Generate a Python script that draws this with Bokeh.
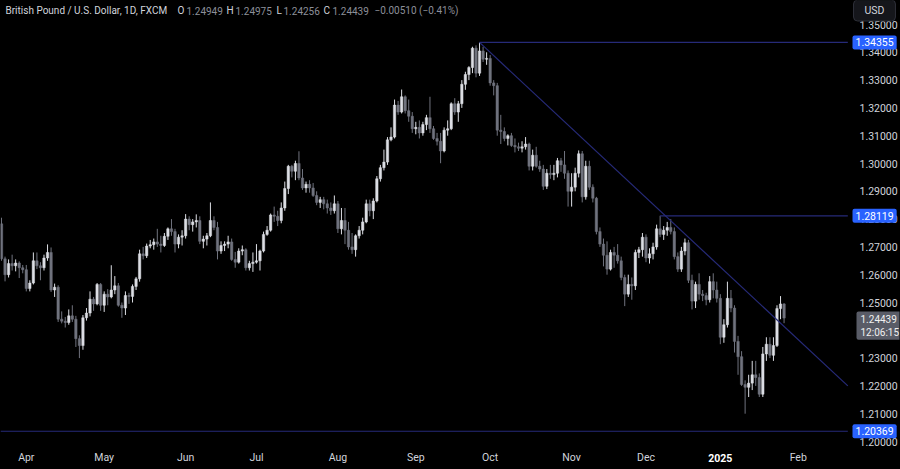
import pandas as pd
from bokeh.plotting import figure
from bokeh.models import (Range1d, FixedTicker, PrintfTickFormatter, Label,
                          ColumnDataSource)
from bokeh.embed import file_html
from bokeh.resources import INLINE

# ---------------- data (GBP/USD daily, FXCM) ----------------
FIRST_DAY = "2024-03-21"
LAST_DAY = "2025-01-28"
NO_BAR_DAYS = ["2024-12-25", "2025-01-01"]

OPEN = [
    # Mar 21-29
    1.2783, 1.2657, 1.2600, 1.2640, 1.2632, 1.2642, 1.2625,
    # Apr
    1.2618, 1.2550, 1.2570, 1.2650, 1.2632, 1.2625, 1.2660, 1.2680, 1.2545, 1.2555, 1.2440,
    1.2433, 1.2428, 1.2452, 1.2440, 1.2370, 1.2345, 1.2445, 1.2462, 1.2512, 1.2495, 1.2565,
    # May
    1.2490, 1.2530, 1.2520, 1.2545, 1.2560, 1.2490, 1.2480, 1.2525, 1.2522, 1.2558, 1.2585,
    1.2675, 1.2668, 1.2703, 1.2708, 1.2718, 1.2710, 1.2705, 1.2738, 1.2765, 1.2755, 1.2710, 1.2735,
    # Jun
    1.2740, 1.2800, 1.2780, 1.2790, 1.2795, 1.2720, 1.2728, 1.2740, 1.2795, 1.2770,
    1.2685, 1.2705, 1.2710, 1.2718, 1.2655, 1.2645, 1.2685, 1.2690, 1.2625, 1.2640,
    # Jul
    1.2645, 1.2650, 1.2685, 1.2745, 1.2760, 1.2815, 1.2810, 1.2795, 1.2840, 1.2910, 1.2990,
    1.2972, 1.3000, 1.2948, 1.2912, 1.2925, 1.2912, 1.2885, 1.2860, 1.2870, 1.2855, 1.2840, 1.2830,
    # Aug
    1.2855, 1.2765, 1.2795, 1.2760, 1.2700, 1.2690, 1.2740, 1.2760, 1.2790, 1.2855, 1.2830,
    1.2865, 1.2945, 1.2985, 1.3005, 1.3085, 1.3095, 1.3210, 1.3185, 1.3240, 1.3190, 1.3170,
    # Sep
    1.3125, 1.3130, 1.3110, 1.3140, 1.3165, 1.3125, 1.3090, 1.3080, 1.3045, 1.3120, 1.3125,
    1.3215, 1.3185, 1.3215, 1.3285, 1.3320, 1.3345, 1.3415, 1.3325, 1.3405, 1.3375,
    # Oct
    1.3378, 1.3290, 1.3280, 1.3120, 1.3115, 1.3090, 1.3100, 1.3065, 1.3060, 1.3055, 1.3060,
    1.3070, 1.2990, 1.3030, 1.2990, 1.2980, 1.2918, 1.2965, 1.2960, 1.2965, 1.3010, 1.2995, 1.2965,
    # Nov
    1.2900, 1.2915, 1.2965, 1.3035, 1.2880, 1.2990, 1.2915, 1.2875, 1.2755, 1.2710, 1.2670,
    1.2620, 1.2680, 1.2670, 1.2650, 1.2590, 1.2530, 1.2565, 1.2560, 1.2680, 1.2690,
    # Dec
    1.2735, 1.2660, 1.2675, 1.2700, 1.2765, 1.2745, 1.2760, 1.2770, 1.2755, 1.2665, 1.2620,
    1.2685, 1.2715, 1.2580, 1.2505, 1.2565, 1.2530, 1.2525, 1.2510, 1.2575, 1.2545,
    # Jan
    1.2515, 1.2375, 1.2420, 1.2515, 1.2480, 1.2360, 1.2305, 1.2205, 1.2195, 1.2210,
    1.2240, 1.2230, 1.2170, 1.2315, 1.2350, 1.2310, 1.2345, 1.2478, 1.24949,
]

HIGH = [
    # Mar 21-29
    1.2805, 1.2665, 1.2655, 1.2672, 1.2655, 1.2648, 1.2635,
    # Apr
    1.2635, 1.2580, 1.2680, 1.2680, 1.2645, 1.2672, 1.2709, 1.2698, 1.2568, 1.2562, 1.2468,
    1.2448, 1.2475, 1.2490, 1.2452, 1.2382, 1.2455, 1.2480, 1.2540, 1.2520, 1.2570, 1.2570,
    # May
    1.2540, 1.2548, 1.2634, 1.2595, 1.2570, 1.2500, 1.2540, 1.2535, 1.2565, 1.2592, 1.2690,
    1.2700, 1.2712, 1.2725, 1.2730, 1.2765, 1.2740, 1.2750, 1.2770, 1.2800, 1.2765, 1.2745, 1.2760,
    # Jun
    1.2818, 1.2810, 1.2800, 1.2817, 1.2810, 1.2740, 1.2750, 1.2860, 1.2810, 1.2790,
    1.2720, 1.2720, 1.2740, 1.2730, 1.2682, 1.2695, 1.2705, 1.2695, 1.2650, 1.2680,
    # Jul
    1.2710, 1.2690, 1.2755, 1.2775, 1.2820, 1.2845, 1.2830, 1.2860, 1.2935, 1.2995, 1.2995,
    1.3010, 1.3044, 1.2980, 1.2935, 1.2940, 1.2930, 1.2900, 1.2880, 1.2880, 1.2870, 1.2860, 1.2885,
    # Aug
    1.2865, 1.2840, 1.2840, 1.2790, 1.2750, 1.2745, 1.2775, 1.2805, 1.2870, 1.2870, 1.2875,
    1.2955, 1.2995, 1.3050, 1.3095, 1.3130, 1.3230, 1.3225, 1.3266, 1.3245, 1.3230, 1.3185,
    # Sep
    1.3150, 1.3155, 1.3150, 1.3175, 1.3240, 1.3135, 1.3110, 1.3110, 1.3130, 1.3155, 1.3220,
    1.3235, 1.3225, 1.3300, 1.3330, 1.3350, 1.3420, 1.3425, 1.34355, 1.3420, 1.3400,
    # Oct
    1.3390, 1.3300, 1.3290, 1.3175, 1.3130, 1.3105, 1.3110, 1.3090, 1.3075, 1.3080, 1.3095,
    1.3075, 1.3050, 1.3060, 1.3010, 1.2995, 1.2980, 1.2995, 1.2995, 1.3020, 1.3020, 1.3045, 1.2975,
    # Nov
    1.2965, 1.2985, 1.3047, 1.3045, 1.3010, 1.3010, 1.2925, 1.2880, 1.2770, 1.2730, 1.2720,
    1.2690, 1.2700, 1.2710, 1.2665, 1.2600, 1.2600, 1.2590, 1.2690, 1.2700, 1.2750,
    # Dec
    1.2745, 1.2695, 1.2715, 1.2780, 1.28119, 1.2775, 1.2790, 1.2800, 1.2770, 1.2680, 1.2700,
    1.2730, 1.2725, 1.2600, 1.2575, 1.2605, 1.2545, 1.2535, 1.2595, 1.2605, 1.2575,
    # Jan
    1.2530, 1.2440, 1.2575, 1.2545, 1.2490, 1.2380, 1.2325, 1.2220, 1.2240, 1.2290,
    1.2290, 1.2245, 1.2340, 1.2375, 1.2375, 1.2375, 1.2490, 1.2523, 1.24975,
]

LOW = [
    # Mar 21-29
    1.2650, 1.2576, 1.2590, 1.2615, 1.2612, 1.2588, 1.2605,
    # Apr
    1.2540, 1.2540, 1.2565, 1.2620, 1.2580, 1.2615, 1.2650, 1.2538, 1.2520, 1.2430, 1.2425,
    1.2410, 1.2420, 1.2430, 1.2340, 1.2300, 1.2330, 1.2435, 1.2450, 1.2470, 1.2490, 1.2470,
    # May
    1.2466, 1.2490, 1.2515, 1.2530, 1.2485, 1.2445, 1.2455, 1.2495, 1.2500, 1.2545, 1.2575,
    1.2655, 1.2660, 1.2695, 1.2690, 1.2700, 1.2680, 1.2700, 1.2725, 1.2740, 1.2680, 1.2695, 1.2705,
    # Jun
    1.2730, 1.2760, 1.2755, 1.2770, 1.2710, 1.2695, 1.2705, 1.2735, 1.2760, 1.2655,
    1.2675, 1.2685, 1.2695, 1.2650, 1.2625, 1.2640, 1.2670, 1.2615, 1.2615, 1.2610,
    # Jul
    1.2640, 1.2615, 1.2680, 1.2740, 1.2755, 1.2790, 1.2775, 1.2785, 1.2830, 1.2890, 1.2950,
    1.2940, 1.2940, 1.2905, 1.2895, 1.2895, 1.2880, 1.2850, 1.2840, 1.2835, 1.2820, 1.2815, 1.2820,
    # Aug
    1.2750, 1.2745, 1.2710, 1.2690, 1.2675, 1.2665, 1.2730, 1.2745, 1.2785, 1.2810, 1.2800,
    1.2860, 1.2935, 1.2975, 1.2995, 1.3080, 1.3090, 1.3175, 1.3180, 1.3180, 1.3150, 1.3110,
    # Sep
    1.3105, 1.3090, 1.3100, 1.3120, 1.3110, 1.3085, 1.3065, 1.3001, 1.3040, 1.3100, 1.3120,
    1.3175, 1.3150, 1.3200, 1.3265, 1.3300, 1.3325, 1.3310, 1.3315, 1.3365, 1.3355,
    # Oct
    1.3280, 1.3245, 1.3100, 1.3070, 1.3080, 1.3065, 1.3060, 1.3040, 1.3045, 1.3040, 1.3050,
    1.2975, 1.2975, 1.2985, 1.2970, 1.2905, 1.2908, 1.2945, 1.2940, 1.2950, 1.2970, 1.2945, 1.2845,
    # Nov
    1.2845, 1.2900, 1.2950, 1.2860, 1.2870, 1.2905, 1.2860, 1.2745, 1.2700, 1.2630, 1.2600,
    1.2615, 1.2625, 1.2640, 1.2580, 1.2487, 1.2520, 1.2510, 1.2545, 1.2660, 1.2665,
    # Dec
    1.2645, 1.2640, 1.2655, 1.2690, 1.2735, 1.2725, 1.2740, 1.2745, 1.2655, 1.2610, 1.2610,
    1.2670, 1.2570, 1.2475, 1.2480, 1.2510, 1.2505, 1.2490, 1.2500, 1.2515, 1.2500,
    # Jan
    1.2350, 1.2355, 1.2410, 1.2465, 1.2320, 1.2240, 1.2200, 1.2100, 1.2160, 1.2185,
    1.2200, 1.2160, 1.2160, 1.2290, 1.2300, 1.2290, 1.2340, 1.2440, 1.24256,
]

CLOSE = [
    # Mar 21-29
    1.2657, 1.2600, 1.2640, 1.2632, 1.2642, 1.2625, 1.2618,
    # Apr
    1.2550, 1.2570, 1.2650, 1.2632, 1.2625, 1.2660, 1.2680, 1.2545, 1.2555, 1.2440, 1.2433,
    1.2428, 1.2452, 1.2440, 1.2370, 1.2345, 1.2445, 1.2462, 1.2512, 1.2495, 1.2565, 1.2490,
    # May
    1.2530, 1.2520, 1.2545, 1.2560, 1.2490, 1.2480, 1.2525, 1.2522, 1.2558, 1.2585, 1.2675,
    1.2668, 1.2703, 1.2708, 1.2718, 1.2710, 1.2705, 1.2738, 1.2765, 1.2755, 1.2710, 1.2735, 1.2740,
    # Jun
    1.2800, 1.2780, 1.2790, 1.2795, 1.2720, 1.2728, 1.2740, 1.2795, 1.2770, 1.2685,
    1.2705, 1.2710, 1.2718, 1.2655, 1.2645, 1.2685, 1.2690, 1.2625, 1.2640, 1.2645,
    # Jul
    1.2650, 1.2685, 1.2745, 1.2760, 1.2815, 1.2810, 1.2795, 1.2840, 1.2910, 1.2990, 1.2972,
    1.3000, 1.2948, 1.2912, 1.2925, 1.2912, 1.2885, 1.2860, 1.2870, 1.2855, 1.2840, 1.2830, 1.2855,
    # Aug
    1.2765, 1.2795, 1.2760, 1.2700, 1.2690, 1.2740, 1.2760, 1.2790, 1.2855, 1.2830, 1.2865,
    1.2945, 1.2985, 1.3005, 1.3085, 1.3095, 1.3210, 1.3185, 1.3240, 1.3190, 1.3170, 1.3125,
    # Sep
    1.3130, 1.3110, 1.3140, 1.3165, 1.3125, 1.3090, 1.3080, 1.3045, 1.3120, 1.3125, 1.3215,
    1.3185, 1.3215, 1.3285, 1.3320, 1.3345, 1.3415, 1.3325, 1.3405, 1.3375, 1.3378,
    # Oct
    1.3290, 1.3280, 1.3120, 1.3115, 1.3090, 1.3100, 1.3065, 1.3060, 1.3055, 1.3060, 1.3070,
    1.2990, 1.3030, 1.2990, 1.2980, 1.2918, 1.2965, 1.2960, 1.2965, 1.3010, 1.2995, 1.2965, 1.2900,
    # Nov
    1.2915, 1.2965, 1.3035, 1.2880, 1.2990, 1.2915, 1.2875, 1.2755, 1.2710, 1.2670, 1.2620,
    1.2680, 1.2670, 1.2650, 1.2590, 1.2530, 1.2565, 1.2560, 1.2680, 1.2690, 1.2735,
    # Dec
    1.2660, 1.2675, 1.2700, 1.2765, 1.2745, 1.2760, 1.2770, 1.2755, 1.2665, 1.2620, 1.2685,
    1.2715, 1.2580, 1.2505, 1.2565, 1.2530, 1.2525, 1.2510, 1.2575, 1.2545, 1.2515,
    # Jan
    1.2375, 1.2420, 1.2515, 1.2480, 1.2360, 1.2305, 1.2205, 1.2195, 1.2210, 1.2240,
    1.2230, 1.2170, 1.2315, 1.2350, 1.2310, 1.2345, 1.2478, 1.24949, 1.24439,
]

# axis ticks / labels
PRICE_TICKS = [1.20, 1.21, 1.22, 1.23, 1.24, 1.25, 1.26, 1.27, 1.28, 1.29,
               1.30, 1.31, 1.32, 1.33, 1.34, 1.35]
MONTH_TICK_DAYS = ["2024-04-01", "2024-05-01", "2024-06-03", "2024-07-01", "2024-08-01",
                   "2024-09-02", "2024-10-01", "2024-11-01", "2024-12-02", "2025-01-02",
                   "2025-02-03"]
MONTH_TICK_LABELS = ["Apr", "May", "Jun", "Jul", "Aug", "Sep", "Oct", "Nov", "Dec",
                     "2025", "Feb"]
BOLD_TICK_LABELS = ["2025"]

# drawings: horizontal levels and trend line
LEVEL_PRICES = [1.34355, 1.28119, 1.20369]
LEVEL_FROM_DAYS = ["2024-09-26", "2024-12-06", None]
DRAWING_RIGHT_DAY = "2025-02-21"
TREND_DAYS = ["2024-09-26", "2025-02-21"]
TREND_PRICES = [1.34355, 1.2200]

SYMBOL_TITLE = "British Pound / U.S. Dollar, 1D, FXCM"
CURRENCY = "USD"
BAR_COUNTDOWN = "12:06:15"

# ---------------- styling ----------------
BG = "#000000"
UP = "#dcdee4"
DOWN = "#70737e"
DRAW = "#262a78"
TXT = "#d1d4dc"
DIM = "#8c8f99"
BLUE = "#2962ff"
FONT = "Roboto"

W, H = 900, 469
PANE_W = 848          # width of the candle pane (price scale to its right)
BAR_PX = 3.545
FIRST_BAR_PX = 1.0

# ---------------- positions ----------------
days = [d for d in pd.bdate_range(FIRST_DAY, LAST_DAY)
        if d.strftime("%Y-%m-%d") not in NO_BAR_DAYS]
future = list(pd.bdate_range(pd.Timestamp(LAST_DAY) + pd.Timedelta(days=1), periods=60))
all_days = [d.strftime("%Y-%m-%d") for d in days + future]
pos = {d: i for i, d in enumerate(all_days)}
n = len(days)
assert n == len(OPEN) == len(HIGH) == len(LOW) == len(CLOSE)

idx = list(range(n))
colors = [UP if c >= o else DOWN for o, c in zip(OPEN, CLOSE)]
src = ColumnDataSource(dict(x=idx, o=OPEN, h=HIGH, l=LOW, c=CLOSE,
                            top=[max(o, c) for o, c in zip(OPEN, CLOSE)],
                            bot=[min(o, c) for o, c in zip(OPEN, CLOSE)],
                            col=colors))

x0 = -FIRST_BAR_PX / BAR_PX
x1 = x0 + W / BAR_PX
PX_PER_PRICE = 2780.0
Y_AT_130 = 163.0
y_top = 1.30 + Y_AT_130 / PX_PER_PRICE
y_bot = 1.30 - (H - Y_AT_130) / PX_PER_PRICE

p = figure(width=W, height=H, output_backend="svg", toolbar_location=None,
           x_range=Range1d(x0, x1), y_range=Range1d(y_bot, y_top),
           y_axis_location="right",
           background_fill_color=BG, border_fill_color=BG, outline_line_color=None,
           min_border_left=0, min_border_top=0, min_border_right=0,
           min_border_bottom=0)
p.grid.visible = False

# candles
p.segment(x0="x", y0="l", x1="x", y1="h", source=src, line_color="col", line_width=1)
p.vbar(x="x", width=0.68, top="top", bottom="bot", source=src,
       fill_color="col", line_color="col", line_width=0.5)

# levels and trend line
right_idx = pos[DRAWING_RIGHT_DAY]
lev_x0 = [pos[d] if d is not None else x0 for d in LEVEL_FROM_DAYS]
p.segment(x0=lev_x0, y0=LEVEL_PRICES, x1=[right_idx] * len(LEVEL_PRICES), y1=LEVEL_PRICES,
          line_color=DRAW, line_width=1.2)
p.line(x=[pos[d] for d in TREND_DAYS], y=TREND_PRICES, line_color=DRAW, line_width=1.2)

# axes (labels drawn over the pane edges like the reference price/time scales)
ya = p.yaxis[0]
ya.ticker = FixedTicker(ticks=PRICE_TICKS)
ya.formatter = PrintfTickFormatter(format="%.5f")
ya.axis_line_color = None
ya.major_tick_line_color = None
ya.minor_tick_line_color = None
ya.major_tick_out = 0
ya.major_tick_in = 0
ya.major_label_standoff = -40
ya.major_label_text_color = TXT
ya.major_label_text_font = FONT
ya.major_label_text_font_size = "10.5px"

month_pos = [pos[d] for d in MONTH_TICK_DAYS]
xa = p.xaxis[0]
xa.ticker = FixedTicker(ticks=month_pos)
xa.major_label_overrides = {m: ("" if lab in BOLD_TICK_LABELS else lab)
                            for m, lab in zip(month_pos, MONTH_TICK_LABELS)}
xa.axis_line_color = None
xa.major_tick_line_color = None
xa.minor_tick_line_color = None
xa.major_tick_out = 0
xa.major_tick_in = 0
xa.major_label_standoff = -19
xa.major_label_text_color = TXT
xa.major_label_text_font = FONT
xa.major_label_text_font_size = "10.5px"

for m, lab in zip(month_pos, MONTH_TICK_LABELS):
    if lab in BOLD_TICK_LABELS:
        p.add_layout(Label(x=m, y=12, x_units="data", y_units="screen", text=lab,
                           text_align="center", text_baseline="middle",
                           text_font=FONT, text_font_size="10.5px",
                           text_font_style="bold", text_color="#ffffff"))

# price-scale labels
for price in LEVEL_PRICES:
    p.add_layout(Label(x=PANE_W + 4, y=price, x_units="screen", y_units="data",
                       text=f"{price:.5f}", text_align="left", text_baseline="middle",
                       text_font=FONT, text_font_size="10.5px", text_color="#ffffff",
                       background_fill_color=BLUE, padding=3, border_radius=2))
p.add_layout(Label(x=PANE_W + 8, y=CLOSE[-1], x_units="screen", y_units="data",
                   y_offset=6.5, text=f"{CLOSE[-1]:.5f}\n{BAR_COUNTDOWN}",
                   text_align="left", text_baseline="top",
                   text_font=FONT, text_font_size="10px", text_color="#f0f0f0",
                   background_fill_color="#595c67",
                   padding=dict(left=4, right=4, top=2, bottom=2), border_radius=2))
p.add_layout(Label(x=PANE_W + 26, y=H - 10, x_units="screen", y_units="screen",
                   text=CURRENCY, text_align="center", text_baseline="middle",
                   text_font=FONT, text_font_size="10.5px", text_color=TXT,
                   background_fill_color="#15161b", border_line_color="#2e3039",
                   padding=dict(left=11, right=11, top=4, bottom=4), border_radius=4))

# header line
chg = CLOSE[-1] - CLOSE[-2]
pct = chg / CLOSE[-2] * 100


def fmt_signed(v, nd):
    s = f"{abs(v):.{nd}f}"
    return ("\u2212" if v < 0 else "+") + s


header = [
    (5, SYMBOL_TITLE, TXT),
    (177, "O", TXT), (186, f"{OPEN[-1]:.5f}", DIM),
    (226, "H", TXT), (235, f"{HIGH[-1]:.5f}", DIM),
    (276, "L", TXT), (283, f"{LOW[-1]:.5f}", DIM),
    (323, "C", TXT), (332, f"{CLOSE[-1]:.5f}", DIM),
    (374, f"{fmt_signed(chg, 5)} ({fmt_signed(pct, 2)}%)", DIM),
]
for hx, txt, col in header:
    p.add_layout(Label(x=hx, y=H - 10, x_units="screen", y_units="screen",
                       text=txt, text_align="left", text_baseline="middle",
                       text_font=FONT, text_font_size="10px", text_color=col))

html = file_html(p, INLINE, title="GBPUSD 1D")
html = html.replace("<head>", "<head><style>html,body{margin:0;padding:0;background:#000000;overflow:hidden;}</style>", 1)
open("out.html", "w").write(html)
